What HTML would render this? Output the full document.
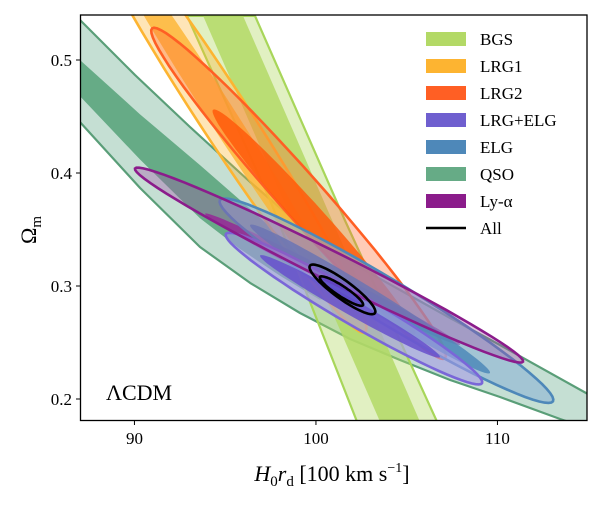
<!DOCTYPE html>
<html><head><meta charset="utf-8"><style>
body{margin:0;background:#fff}
svg text{font-family:"Liberation Serif","DejaVu Serif",serif;fill:#000}
</style></head><body>
<svg id="chart" width="600" height="500" viewBox="0 0 600 500" xmlns="http://www.w3.org/2000/svg">
<defs><clipPath id="clip"><rect x="80.5" y="15" width="506.5" height="405.5"/></clipPath></defs>
<rect width="600" height="500" fill="#fff"/>
<g id="contours" clip-path="url(#clip)"></g>
<rect x="80.5" y="15" width="506.5" height="405.5" fill="none" stroke="#000" stroke-width="1.3"/>
<g id="axes"></g>
<text x="106" y="400" font-size="22">ΛCDM</text>
<text x="332" y="481" font-size="22" text-anchor="middle"><tspan font-style="italic">H</tspan><tspan font-size="15" dy="5">0</tspan><tspan font-style="italic" dy="-5">r</tspan><tspan font-size="15" dy="5">d</tspan><tspan dy="-5"> [100 km s</tspan><tspan font-size="14" dy="-9">−1</tspan><tspan dy="9">]</tspan></text>
<text transform="translate(36,230) rotate(-90)" font-size="22" text-anchor="middle">Ω<tspan font-size="15" dy="5">m</tspan></text>
<g id="legend"></g>
</svg>
<script>
const xTicks=[90,100,110];
const yTicks=[0.2,0.3,0.4,0.5];
const yTickLabels=["0.2","0.3","0.4","0.5"];
const legendNames=["BGS","LRG1","LRG2","LRG+ELG","ELG","QSO","Ly-α","All"];
const legendColors=["#b3d966","#fdb431","#ff5f24","#6f5fcf","#4e88b9","#66ab86","#8b1c8b","#000"];
// band contours (polygons in data coords)
const qsoOuterTop=[[86,0.552],[87.0,0.5354],[90.03,0.4867],[93.06,0.4407],[96.37,0.3920],[99.12,0.3540],[101.88,0.3212],[104.63,0.2965],[107.39,0.2717],[110.14,0.2478],[114.88,0.2053],[116,0.196]];
const qsoOuterBottom=[[86,0.462],[87.0,0.445],[90.31,0.3867],[93.61,0.3345],[96.37,0.3027],[99.12,0.2761],[101.88,0.2531],[104.63,0.2345],[107.39,0.2168],[110.14,0.2018],[113.45,0.1823],[116,0.168]];
const qsoInner=[[86,0.508],[87.0,0.500],[90.3,0.452],[93.61,0.407],[96.4,0.368],[98.57,0.336],[100.3,0.306],[101.05,0.289],[100.2,0.288],[98.02,0.309],[95.8,0.333],[93.61,0.360],[90.3,0.412],[87.0,0.468],[86,0.477]];
const bgsOuterLeft=[[92.90,0.539],[97.47,0.376],[102.26,0.180]];
const bgsOuterRight=[[96.64,0.539],[101.60,0.358],[106.67,0.180]];
const bgsInnerLeft=[[93.78,0.539],[103.53,0.180]];
const bgsInnerRight=[[95.98,0.539],[105.73,0.180]];
// ellipse contours: [H1,Om1,H2,Om2,halfWidthOm]
const lrg1Outer=[86.83,0.650,102.70,0.259,0.022];
const lrg1Inner=[87.88,0.624,101.33,0.288,0.012];
const lrg2Outer=[90.97,0.528,107.11,0.236,0.019];
const lrg2Inner=[94.33,0.456,105.46,0.257,0.012];
const elgOuter=[94.71,0.376,113.06,0.198,0.019];
const elgInner=[96.37,0.354,109.59,0.223,0.009];
const lrgelgOuter=[95.04,0.346,109.15,0.214,0.014];
const lrgelgInner=[96.92,0.327,106.83,0.237,0.007];
const lyaOuter=[90.03,0.404,111.41,0.233,0.013];
const lyaInner=[93.89,0.364,107.94,0.248,0.006];
const allOuter=[99.67,0.318,103.25,0.276,0.008];
const allInner=[100.22,0.308,102.59,0.283,0.0045];

const X=h=>80+(h-87)*18.15;
const Y=o=>60+(0.5-o)*1130;
const NS='http://www.w3.org/2000/svg';
const g=document.getElementById('contours');
function mk(tag,attrs,parent){const e=document.createElementNS(NS,tag);for(const k in attrs)e.setAttribute(k,attrs[k]);parent.appendChild(e);return e;}
function polyPath(pts){return 'M'+pts.map(p=>X(p[0]).toFixed(1)+','+Y(p[1]).toFixed(1)).join('L')+'Z';}
function ellPath(e){
  const x1=X(e[0]),y1=Y(e[1]),x2=X(e[2]),y2=Y(e[3]);
  const cx=(x1+x2)/2,cy=(y1+y2)/2,a=Math.hypot(x2-x1,y2-y1)/2,b=e[4]*1130,t=Math.atan2(y2-y1,x2-x1);
  let d='';
  for(let i=0;i<=72;i++){const u=i/72*2*Math.PI;const px=cx+a*Math.cos(u)*Math.cos(t)-b*Math.sin(u)*Math.sin(t);const py=cy+a*Math.cos(u)*Math.sin(t)+b*Math.sin(u)*Math.cos(t);d+=(i?'L':'M')+px.toFixed(1)+','+py.toFixed(1);}
  return d+'Z';
}
function band(left,right){return polyPath(left.concat(right.slice().reverse()));}
let p;
// QSO
p=mk('path',{d:band(qsoOuterTop,qsoOuterBottom),fill:'#c5dfd3',stroke:'#5a9e78','stroke-width':2.2,'stroke-linejoin':'round'},g);

p=mk('path',{d:polyPath(qsoInner),fill:'#66ab86'},g);

// BGS
p=mk('path',{d:band(bgsOuterLeft,bgsOuterRight),fill:'#b3d966','fill-opacity':0.4,stroke:'#a8d65a','stroke-width':2.2},g);

p=mk('path',{d:band(bgsInnerLeft,bgsInnerRight),fill:'#b3d966','fill-opacity':0.85},g);

function ell(e,fill,op,stroke,name){
  const a={d:ellPath(e),fill:fill,'fill-opacity':op};
  if(stroke){a.stroke=stroke;a['stroke-width']=2.6;}
  const el=mk('path',a,g);
  
  
}
ell(lrg1Outer,'#fdb431',0.35,'#fdb431','lrg1-outer-contour');
ell(lrg1Inner,'#fdb431',0.8,null,'lrg1-inner-contour');
ell(lrg2Outer,'#ff6a30',0.35,'#ff5f24','lrg2-outer-contour');
ell(lrg2Inner,'#ff5a0a',0.85,null,'lrg2-inner-contour');
ell(lyaInner,'#8b1c8b',0.9,null,'lya-inner-contour');
ell(elgOuter,'#8cb4d6',0.6,'#4e88b9','elg-outer-contour');
ell(elgInner,'#4e88b9',0.85,null,'elg-inner-contour');
ell(lrgelgOuter,'#a59be6',0.6,'#7a66d8','lrgelg-outer-contour');
ell(lrgelgInner,'#6650cc',0.85,null,'lrgelg-inner-contour');
ell(lyaOuter,'#a34fa8',0.35,'#8b1c8b','lya-outer-contour');
ell(allOuter,'#6f5fcf',0.3,'#000','all-outer-contour');
ell(allInner,'#5a48c8',0.8,'#000','all-inner-contour');
// axes
const ax=document.getElementById('axes');
xTicks.forEach(v=>{
  const l=mk('line',{x1:X(v),x2:X(v),y1:420.5,y2:425,stroke:'#000','stroke-width':1},ax);
  
  const t=mk('text',{x:X(v),y:444,'font-size':17,'text-anchor':'middle'},ax);t.textContent=v;
  
});
yTicks.forEach((v,i)=>{
  const l=mk('line',{x1:76,x2:80.5,y1:Y(v),y2:Y(v),stroke:'#000','stroke-width':1},ax);
  
  const t=mk('text',{x:72,y:Y(v)+6,'font-size':17,'text-anchor':'end'},ax);t.textContent=yTickLabels[i];
  
});
// legend
const lg=document.getElementById('legend');
legendNames.forEach((n,i)=>{
  const cy=39+i*27;
  let m;
  if(n==='All'){m=mk('line',{x1:426,x2:466,y1:cy,y2:cy,stroke:'#000','stroke-width':2.5},lg);}
  else{m=mk('rect',{x:426,y:cy-7,width:40,height:14,fill:legendColors[i]},lg);}
  
  
  const t=mk('text',{x:480,y:cy+6,'font-size':17},lg);t.textContent=n;
  
  
});
</script>
</body></html>
